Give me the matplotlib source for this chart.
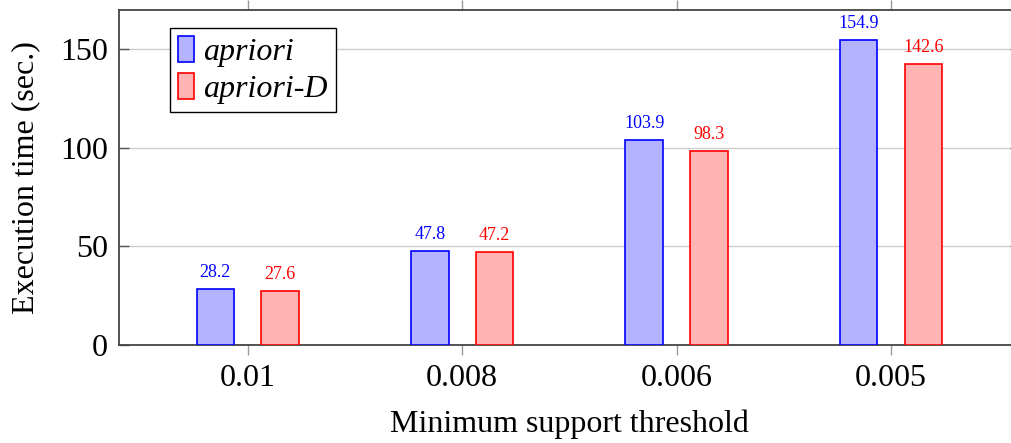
import matplotlib
matplotlib.use("Agg")
import matplotlib.pyplot as plt
import numpy as np

categories = ["0.01", "0.008", "0.006", "0.005"]
apriori = [28.2, 47.8, 103.9, 154.9]
apriori_d = [27.6, 47.2, 98.3, 142.6]
yticks = [0, 50, 100, 150]

plt.rcParams['font.family'] = ['Liberation Serif', 'DejaVu Serif']

fig = plt.figure(figsize=(10.11, 4.43), dpi=100)
ax = fig.add_axes([119/1011, 1-345/443, (1019.7-119)/1011, (345-10)/443])

x = np.arange(len(categories))
w = 0.175
off = 0.151
b1 = ax.bar(x - off, apriori, w, facecolor='#b3b3ff', edgecolor='blue', linewidth=1.2, label='apriori', zorder=3)
b2 = ax.bar(x + off, apriori_d, w, facecolor='#ffb3b3', edgecolor='red', linewidth=1.2, label='apriori-D', zorder=3)

for bars, vals, col in [(b1, apriori, 'blue'), (b2, apriori_d, 'red')]:
    for rect, v in zip(bars, vals):
        ax.annotate(f"{v}", (rect.get_x() + rect.get_width()/2, v), xytext=(0, 8.6),
                    textcoords='offset points', ha='center', va='baseline',
                    color=col, fontsize=13, zorder=4)

ax.set_xlim(-0.6, 3.6)
ax.set_ylim(0, 170)
ax.set_xticks(x)
ax.set_xticklabels(categories, fontsize=23)
ax.set_yticks(yticks)
ax.set_yticklabels([str(t) for t in yticks], fontsize=23)

ax.yaxis.grid(True, color='#cccccc', linewidth=1.0, zorder=0)
ax.set_axisbelow(True)

ax.tick_params(axis='x', which='major', direction='out', length=7.5, width=1.0,
               color='#999999', top=True, bottom=True, pad=6)
ax.tick_params(axis='y', which='major', direction='in', length=7.5, width=1.0,
               color='#555555', left=True, right=True, pad=8)

for s in ax.spines.values():
    s.set_color('#444444')
    s.set_linewidth(1.3)

ax.set_xlabel('Minimum support threshold', fontsize=23, labelpad=12)
ax.set_ylabel('Execution time (sec.)', fontsize=23)
ax.yaxis.set_label_coords(-(119-40)/900.7, 0.5)

leg = ax.legend(loc='upper left', bbox_to_anchor=(0.0566, 0.946), borderaxespad=0,
                fancybox=False, framealpha=1, edgecolor='black',
                prop={'family': 'Liberation Serif', 'style': 'italic', 'size': 23},
                handlelength=0.5, handleheight=0.85, handletextpad=0.3,
                labelspacing=0.2, borderpad=0.25)
leg.get_frame().set_linewidth(1.0)

fig.savefig('out.png', dpi=100)
